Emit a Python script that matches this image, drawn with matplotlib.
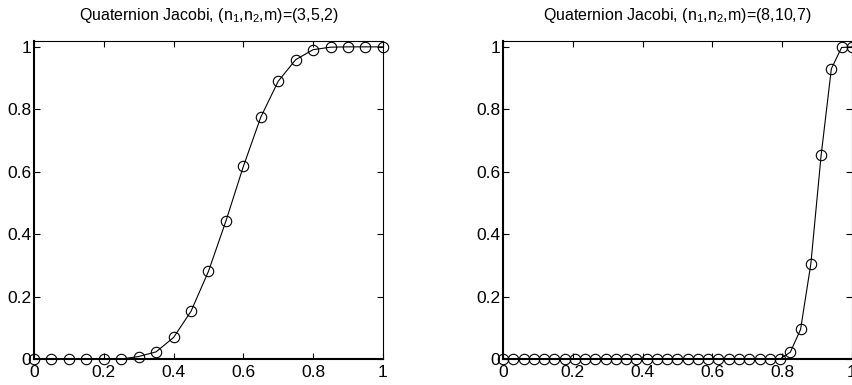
import matplotlib
matplotlib.use("Agg")
import matplotlib.pyplot as plt
import numpy as np

plt.rcParams['font.family'] = ['Liberation Sans Narrow', 'Liberation Sans', 'DejaVu Sans']
plt.rcParams['mathtext.default'] = 'regular'

# left panel: (n1,n2,m)=(3,5,2), samples every 0.05
x_left = np.linspace(0, 1, 21)
y_left = [0, 0, 0, 0, 0, 0, 0.008, 0.023, 0.069, 0.153, 0.281,
          0.442, 0.617, 0.775, 0.89, 0.959, 0.991, 0.999, 1.0, 1.0, 1.0]

# right panel: (n1,n2,m)=(8,10,7), 35 samples
x_right = np.linspace(0, 1, 35)
y_right = [0] * 28 + [0.022, 0.095, 0.305, 0.652, 0.93, 0.998, 1.0]

titles = [r'Quaternion Jacobi, (n$_1$,n$_2$,m)=(3,5,2)',
          r'Quaternion Jacobi, (n$_1$,n$_2$,m)=(8,10,7)']
ticks = [0, 0.2, 0.4, 0.6, 0.8, 1]
tick_labels = ['0', '0.2', '0.4', '0.6', '0.8', '1']

fig = plt.figure(figsize=(8.53, 3.85), dpi=100)
positions = [[0.0399, 0.0675, 0.409, 0.827], [0.5897, 0.0675, 0.409, 0.827]]

for pos, xs, ys, title in zip(positions, [x_left, x_right], [y_left, y_right], titles):
    ax = fig.add_axes(pos)
    ax.plot(xs, ys, color='black', linewidth=0.8, marker='o', markersize=7.5,
            markerfacecolor='none', markeredgecolor='black', markeredgewidth=0.8,
            clip_on=False)
    ax.set_xlim(0, 1)
    ax.set_ylim(0, 1.02)
    ax.set_xticks(ticks)
    ax.set_xticklabels(tick_labels)
    ax.set_yticks(ticks)
    ax.set_yticklabels(tick_labels)
    ax.tick_params(direction='in', length=4, width=0.8, labelsize=12.5,
                   top=True, right=True)
    ax.tick_params(axis='x', pad=4)
    ax.tick_params(axis='y', pad=2)
    for side in ['top', 'right']:
        ax.spines[side].set_linewidth(0.8)
    for side in ['bottom', 'left']:
        ax.spines[side].set_linewidth(1.5)
    ax.set_title(title, fontsize=11.5, pad=15)

fig.savefig('out.png', dpi=100)
